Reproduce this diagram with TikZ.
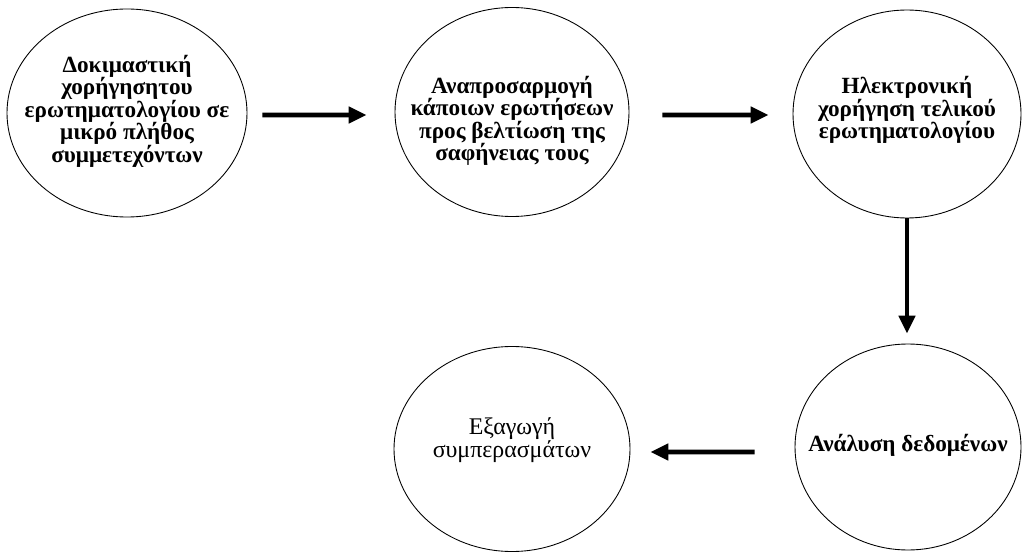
\documentclass[tikz,border=0pt]{standalone}
\usepackage{fontspec}
\setmainfont{Liberation Serif}
\usetikzlibrary{arrows.meta,shapes.geometric}

\tikzset{
  bubble/.style={draw,ellipse,line width=0.5pt,inner sep=0pt},
  stage/.style={align=center,font=\fontsize{13.2}{12.8}\selectfont\bfseries},
  flow/.style={line width=2.8pt,-{Triangle[length=0.36cm,width=0.32cm]}}
}

\begin{document}
\begin{tikzpicture}
\useasboundingbox (0,0) rectangle (20.44,-11.06);
% ellipses: name / centre / axes (1 px = 0.02 cm)
\foreach \n/\x/\y/\w/\h in {e1/2.54/-2.26/4.80/4.16,e2/10.24/-2.24/4.68/4.18,
  e3/18.14/-2.28/4.56/4.16,e4/18.16/-8.94/4.52/4.12,e5/10.24/-8.98/4.72/4.10}{
  \node[bubble,minimum width=\w cm,minimum height=\h cm] (\n) at (\x,\y) {};
}
% texts
\node[stage] (t1) at ([yshift=0.04cm]e1) {Δοκιμαστική\\χορήγησητου\\ερωτηματολογίου σε\\μικρό πλήθος\\συμμετεχόντων};
\node[stage] (t2) at ([yshift=-0.18cm]e2) {Αναπροσαρμογή\\κάποιων ερωτήσεων\\προς βελτίωση της\\σαφήνειας τους};
\node[stage] (t3) at ([yshift=0.08cm]e3) {Ηλεκτρονική\\χορήγηση τελικού\\ερωτηματολογίου};
\node[stage] (t4) at ([yshift=0.04cm]e4) {Ανάλυση δεδομένων};
\node[stage,font=\fontsize{13.6}{12.8}\selectfont] (t5) at ([yshift=0.18cm]e5) {Εξαγωγή\\συμπερασμάτων};
% arrows
\draw[flow,shorten <=0.30cm,shorten >=0.56cm] ([yshift=-0.04cm]e1.east) -- ([yshift=-0.06cm]e2.west);
\draw[flow,shorten <=0.66cm,shorten >=0.48cm] ([yshift=-0.06cm]e2.east) -- ([yshift=-0.02cm]e3.west);
\draw[flow,shorten >=0.20cm] (e3.south) -- (e3.south |- e4.north);
\draw[flow,shorten <=0.80cm,shorten >=0.40cm] ([yshift=-0.10cm]e4.west) -- ([yshift=-0.06cm]e5.east);
\end{tikzpicture}
\end{document}
